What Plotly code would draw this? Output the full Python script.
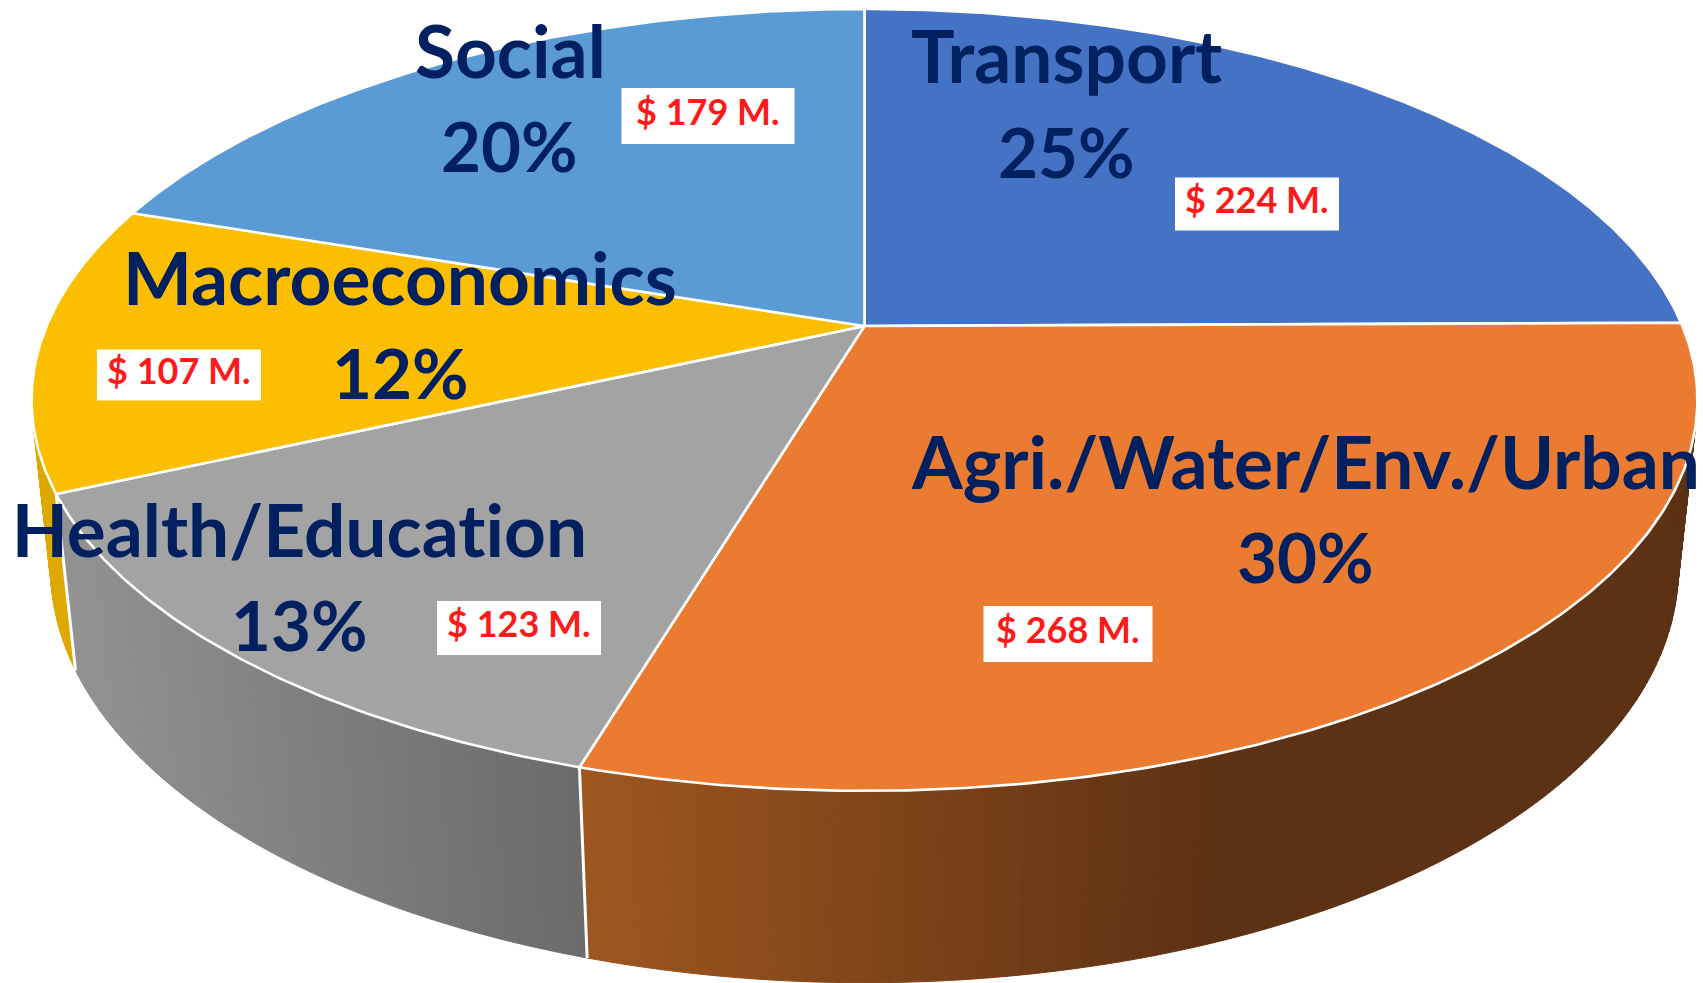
import math
import plotly.graph_objects as go

# ---- data ----
categories = ["Transport", "Agri./Water/Env./Urban", "Health/Education", "Macroeconomics", "Social"]
amounts = [224, 268, 123, 107, 179]
percent_labels = ["25%", "30%", "13%", "12%", "20%"]
amount_labels = ["$ 224 M.", "$ 268 M.", "$ 123 M.", "$ 107 M.", "$ 179 M."]

# ---- style ----
top_colors = ["#4472C4", "#EB7B31", "#A3A3A3", "#FBBE00", "#5B9BD5"]
# wall gradient stops per slice: (x-left, colour-left, x-right, colour-right)
wall_grad = {
    1: (580, (158, 86, 31), 1220, (93, 49, 20)),
    2: (60, (146, 146, 146), 585, (106, 106, 106)),
    3: (30, (222, 168, 0), 80, (222, 168, 0)),
}
NAVY = "#002060"
RED = "#FF1A1A"
FONT = "Lato"

# label centres in pixels
name_xy = [(1066, 55), (1305, 461), (299, 529), (400, 277), (510, 50)]
pct_xy = [(1066, 151), (1305, 556), (299, 624), (400, 372), (509, 145)]
box_xy = [(1257, 204), (1068, 634), (519, 628), (179, 375), (708, 116)]
box_w = [164, 169, 164, 164, 173]
box_h = [53, 56, 54, 51, 56]
BOX_TEXT_LIFT = 5

# ---- projection of the tilted disc ----
CX, CY, A, B, P, Q, D = 864.5, 326.0, 817.9, 377.0, 0.189, 0.0227, 170.5


def project(theta, depth=0.0):
    """theta in degrees clockwise from 12 o'clock; depth 0 top rim, 1 bottom rim."""
    u, v = math.sin(math.radians(theta)), math.cos(math.radians(theta))
    w = 1 + P * v + Q * depth
    return CX + A * u / w, CY + (-B * v + D * depth) / w


total = sum(amounts)
edges = [0.0]
for a in amounts:
    edges.append(edges[-1] + a / total * 360)


def lerp_color(x, spec):
    x0, c0, x1, c1 = spec
    t = min(1, max(0, (x - x0) / (x1 - x0)))
    return "rgb(%d,%d,%d)" % tuple(round(c0[i] + (c1[i] - c0[i]) * t) for i in range(3))


fig = go.Figure()

# side walls, drawn as thin strips so that the colour can run left to right
for idx, spec in wall_grad.items():
    t0, t1 = edges[idx], edges[idx + 1]
    n = max(2, int((t1 - t0) / 0.75))
    ts = [t0 + (t1 - t0) * i / n for i in range(n + 1)]
    for a, b in zip(ts[:-1], ts[1:]):
        p = [project(a), project(b), project(b, 1), project(a, 1)]
        xs = [q[0] for q in p] + [p[0][0]]
        ys = [q[1] for q in p] + [p[0][1]]
        col = lerp_color((xs[0] + xs[1]) / 2, spec)
        fig.add_trace(go.Scatter(x=xs, y=ys, mode="lines", fill="toself", fillcolor=col,
                                 line=dict(color=col, width=1), hoverinfo="skip", showlegend=False))

# white seams on the wall
for e in edges[2:4]:
    a, b = project(e), project(e, 1)
    fig.add_trace(go.Scatter(x=[a[0], b[0]], y=[a[1], b[1]], mode="lines",
                             line=dict(color="white", width=3), hoverinfo="skip", showlegend=False))

# top face
for i, name in enumerate(categories):
    t0, t1 = edges[i], edges[i + 1]
    n = max(8, int(t1 - t0) * 2)
    arc = [project(t0 + (t1 - t0) * k / n) for k in range(n + 1)]
    xs = [CX] + [q[0] for q in arc] + [CX]
    ys = [CY] + [q[1] for q in arc] + [CY]
    fig.add_trace(go.Scatter(x=xs, y=ys, mode="lines", fill="toself", fillcolor=top_colors[i],
                             line=dict(color="white", width=2.6), name=name, showlegend=False,
                             hovertemplate=f"{name}: {amount_labels[i]} ({percent_labels[i]})<extra></extra>"))

ann, shapes = [], []
for i, name in enumerate(categories):
    ann.append(dict(x=name_xy[i][0], y=name_xy[i][1], text=f"<b>{name}</b>", showarrow=False,
                    xanchor="center", yanchor="middle", font=dict(family=FONT, size=73, color=NAVY)))
    ann.append(dict(x=pct_xy[i][0], y=pct_xy[i][1], text=f"<b>{percent_labels[i]}</b>", showarrow=False,
                    xanchor="center", yanchor="middle", font=dict(family=FONT, size=69, color=NAVY)))
    bx, by = box_xy[i]
    shapes.append(dict(type="rect", xref="x", yref="y", layer="above", fillcolor="white", line=dict(width=0),
                       x0=bx - box_w[i] / 2, x1=bx + box_w[i] / 2, y0=by - box_h[i] / 2, y1=by + box_h[i] / 2))
    ann.append(dict(x=bx, y=by - BOX_TEXT_LIFT, text=f"<b>{amount_labels[i]}</b>", showarrow=False,
                    xanchor="center", yanchor="middle", font=dict(family=FONT, size=36, color=RED)))

fig.update_layout(
    width=1703, height=983, margin=dict(l=0, r=0, t=0, b=0),
    paper_bgcolor="white", plot_bgcolor="white", showlegend=False, annotations=ann, shapes=shapes,
    xaxis=dict(range=[0, 1703], visible=False, fixedrange=True),
    yaxis=dict(range=[983, 0], visible=False, fixedrange=True),
)
page_css = ("document.body.style.margin='0';document.body.style.overflow='hidden';"
            "var s=document.createElement('style');"
            "s.textContent='text,tspan{font-variant-ligatures:none !important;"
            "font-feature-settings:\"liga\" 0,\"clig\" 0 !important}';"
            "document.head.appendChild(s);")
fig.write_html("out.html", config={"displayModeBar": False}, post_script=page_css)
